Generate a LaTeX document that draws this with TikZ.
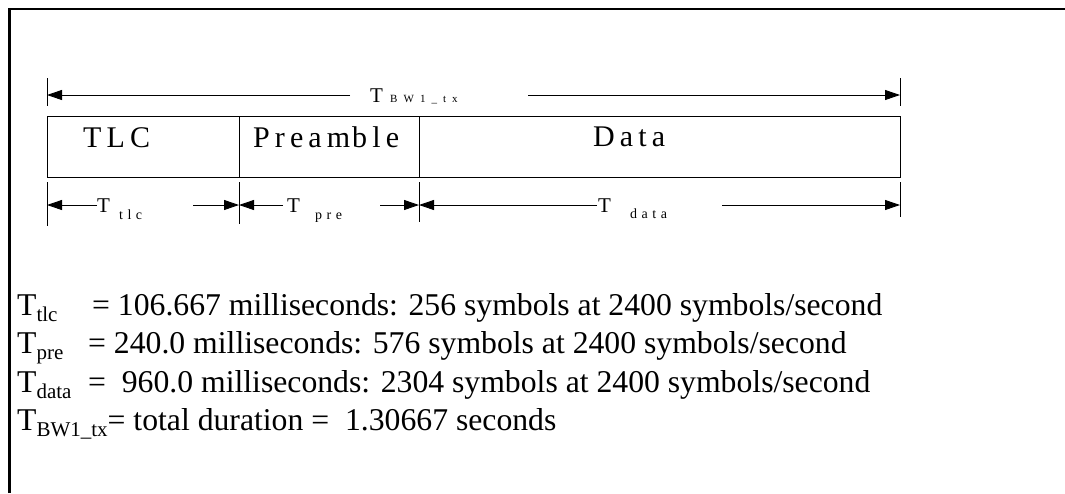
\documentclass[tikz,border=0pt]{standalone}
\usepackage{fontspec}
\setmainfont{Liberation Serif}
\newfontfamily\spc[LetterSpace=17]{Liberation Serif}
\newfontfamily\spcs[LetterSpace=55]{Liberation Serif}
\newfontfamily\spcm[LetterSpace=32]{Liberation Serif}
\usetikzlibrary{arrows.meta}
\newcommand\lsub[1]{\raisebox{-6pt}{\fontsize{21}{21}\selectfont #1}}
\tikzset{
  frame/.style={line width=2.6pt},
  field/.style={draw, line width=1pt, minimum height=61pt, inner sep=0pt},
  dimline/.style={line width=0.9pt, -{Triangle[length=15pt,width=10pt]}},
  tickline/.style={line width=0.8pt},
  lbl/.style={inner sep=0pt, anchor=base west, font=\spc\fontsize{30}{30}\selectfont},
  tsym/.style={inner sep=0pt, anchor=base west, font=\fontsize{21}{21}\selectfont},
  tsub/.style={inner sep=0pt, anchor=base west, font=\spcs\fontsize{11}{11}\selectfont},
  tsubm/.style={inner sep=0pt, anchor=base west, font=\spcm\fontsize{14}{14}\selectfont},
  body/.style={inner sep=0pt, anchor=base west, font=\fontsize{31.7}{31.7}\selectfont},
}
\begin{document}
\begin{tikzpicture}[x=1pt,y=-1pt]
\useasboundingbox (0,0) rectangle (1065,493);
% outer frame (open at right and bottom)
\draw[frame] (9.5,493) -- (9.5,9) -- (1065,9);

% fields
\node[field, minimum width=192pt] (tlc) at (143,146.5) {};
\node[field, minimum width=180pt] (pre) at (329,146.5) {};
\node[field, minimum width=481pt] (data) at (659.5,146.5) {};
\node[lbl] (tlcl) at (83,147) {TLC};
\node[lbl] (prel) at (253,147) {Pream\kern2pt ble};
\node[lbl] (datal) at (593,146) {Data};

% ticks
\coordinate (tA1) at (47,78);  \coordinate (tA2) at (47,106);
\coordinate (tB1) at (900,78); \coordinate (tB2) at (900,106);
\coordinate (b0a) at (47,182);  \coordinate (b0b) at (47,226);
\coordinate (b1a) at (239,182); \coordinate (b1b) at (239,224);
\coordinate (b2a) at (419,182); \coordinate (b2b) at (419,222);
\coordinate (b3a) at (900,182); \coordinate (b3b) at (900,217);
\draw[tickline] (tA1) -- (tA2);
\draw[tickline] (tB1) -- (tB2);
\draw[tickline] (b0a) -- (b0b);
\draw[tickline] (b1a) -- (b1b);
\draw[tickline] (b2a) -- (b2b);
\draw[tickline] (b3a) -- (b3b);

% top dimension
\node[tsym] (tbw) at (370,102) {T};
\node[tsub] (tbws) at (390,102) {BW1\_tx};
\coordinate (top0) at (47,95);
\coordinate (top1) at (350,95);
\coordinate (top2) at (528,95);
\coordinate (top3) at (900,95);
\draw[dimline] (top1) -- (top0);
\draw[dimline] (top2) -- (top3);

% bottom dimensions
\node[tsym] (tt) at (97,212) {T};
\node[tsubm] (tts) at (119,219) {tlc};
\node[tsym] (tp) at (287,212) {T};
\node[tsubm] (tps) at (315,219) {pre};
\node[tsym] (td) at (598,212) {T};
\node[tsubm] (tds) at (630,218) {data};
\coordinate (d0) at (47,205);
\coordinate (d1) at (97,205);
\coordinate (d2) at (193,205);
\coordinate (d3) at (239,205);
\coordinate (d4) at (283,205);
\coordinate (d5) at (380,205);
\coordinate (d6) at (419,205);
\coordinate (d7) at (597,205);
\coordinate (d8) at (722,205);
\coordinate (d9) at (900,205);
\draw[dimline] (d1) -- (d0);
\draw[dimline] (d2) -- (d3);
\draw[dimline] (d4) -- (d3);
\draw[dimline] (d5) -- (d6);
\draw[dimline] (d7) -- (d6);
\draw[dimline] (d8) -- (d9);

% text lines
\node[body] (line1) at (17,315) {\makebox[75pt][l]{T\lsub{tlc}}= 106.667 milliseconds: 256 symbols at 2400 symbols/second};
\node[body] (line2) at (17,353) {\makebox[71pt][l]{T\lsub{pre}}= 240.0 milliseconds: 576 symbols at 2400 symbols/second};
\node[body] (line3) at (17,392) {\makebox[71pt][l]{T\lsub{data}}= \ 960.0 milliseconds: 2304 symbols at 2400 symbols/second};
\node[body] (line4) at (17,430) {T\lsub{BW1\_tx}= total duration = \ 1.30667 seconds};
\end{tikzpicture}
\end{document}
